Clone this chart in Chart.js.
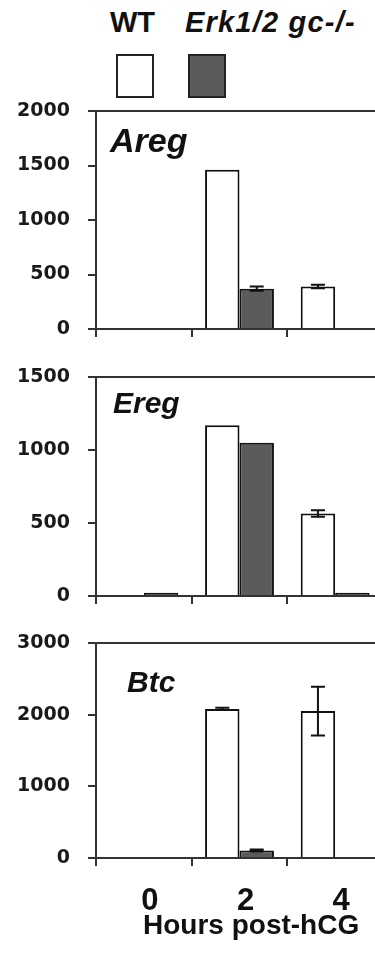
<!DOCTYPE html>
<html>
<head>
<meta charset="utf-8">
<script src="https://cdn.jsdelivr.net/npm/chart.js@4.4.1/dist/chart.umd.min.js"></script>
<style>
  body { margin: 0; width: 375px; height: 967px; overflow: hidden; position: relative; background: #fff;
         font-family: "Liberation Sans", Arial, sans-serif; color: #111; }
  .panel { position: absolute; left: 0; width: 383px; }
  .panel canvas { display: block; }
  .txt { position: absolute; white-space: nowrap; line-height: 1; font-weight: bold; }
  .gene { font-style: italic; }
  .swatch { position: absolute; top: 54px; width: 34px; height: 40px; border: 2px solid #222; }
</style>
</head>
<body>

<!-- legend -->
<div class="txt" style="left:110px; top:8px; font-size:29px;">WT</div>
<div class="txt gene" style="left:185px; top:8px; font-size:29px; letter-spacing:1.2px;">Erk1/2 gc-/-</div>
<div class="swatch" style="left:116px; background:#fff;"></div>
<div class="swatch" style="left:188px; background:#5b5b5b;"></div>

<div class="panel" style="top:91px; height:250px;"><canvas id="areg" width="383" height="250"></canvas></div>
<div class="panel" style="top:357px; height:251px;"><canvas id="ereg" width="383" height="251"></canvas></div>
<div class="panel" style="top:623px; height:344px;"><canvas id="btc" width="383" height="344"></canvas></div>

<div class="txt gene" style="left:110px; top:123px; font-size:34px;">Areg</div>
<div class="txt gene" style="left:113px; top:388px; font-size:30px;">Ereg</div>
<div class="txt gene" style="left:127px; top:667px; font-size:30px;">Btc</div>

<div class="txt" style="left:143px; top:911px; font-size:28px;">Hours post-hCG</div>

<script>
const hours = ["0", "2", "4"];

/* Areg */
const aregWT = [0, 1460, 390];
const aregWTErr = [0, 0, 15];
const aregKO = [0, 370, 0];
const aregKOErr = [0, 20, 0];
const aregTicks = [0, 500, 1000, 1500, 2000];

/* Ereg */
const eregWT = [0, 1170, 565];
const eregWTErr = [0, 0, 22];
const eregKO = [22, 1050, 22];
const eregKOErr = [0, 0, 0];
const eregTicks = [0, 500, 1000, 1500];

/* Btc */
const btcWT = [0, 2080, 2050];
const btcWTErr = [0, 15, 340];
const btcKO = [0, 105, 0];
const btcKOErr = [0, 15, 0];
const btcTicks = [0, 1000, 2000, 3000];

const axisColor = "#333";

/* error bars from dataset.errors */
const errorBars = {
    id: "errorBars",
    afterDatasetsDraw(chart) {
        const ctx = chart.ctx;
        const y = chart.scales.y;
        chart.data.datasets.forEach((ds, i) => {
            const meta = chart.getDatasetMeta(i);
            meta.data.forEach((bar, j) => {
                const e = ds.errors[j];
                if (!e) return;
                const top = y.getPixelForValue(ds.data[j] + e);
                const bot = y.getPixelForValue(ds.data[j] - e);
                ctx.save();
                ctx.strokeStyle = "#111";
                ctx.lineWidth = 2;
                ctx.beginPath();
                ctx.moveTo(bar.x, top); ctx.lineTo(bar.x, bot);
                ctx.moveTo(bar.x - 7, top); ctx.lineTo(bar.x + 7, top);
                ctx.moveTo(bar.x - 7, bot); ctx.lineTo(bar.x + 7, bot);
                ctx.stroke();
                ctx.restore();
            });
        });
    }
};

/* top frame line */
const topLine = {
    id: "topLine",
    afterDraw(chart) {
        const ctx = chart.ctx, a = chart.chartArea;
        ctx.save();
        ctx.strokeStyle = axisColor;
        ctx.lineWidth = 2;
        ctx.beginPath();
        ctx.moveTo(a.left, a.top);
        ctx.lineTo(chart.width, a.top);
        ctx.stroke();
        ctx.restore();
    }
};

function makeChart(id, wt, wtErr, ko, koErr, ticks, showLabels, xHeight) {
    const max = ticks[ticks.length - 1];
    return new Chart(document.getElementById(id), {
        type: "bar",
        data: {
            labels: hours,
            datasets: [
                { label: "WT", data: wt, errors: wtErr, backgroundColor: "#fff",
                  borderColor: "#111", borderWidth: 2 },
                { label: "Erk1/2 gc-/-", data: ko, errors: koErr, backgroundColor: "#5b5b5b",
                  borderColor: "#111", borderWidth: 2 }
            ]
        },
        options: {
            responsive: false,
            devicePixelRatio: 1,
            animation: false,
            layout: { padding: { top: 20, right: 0, bottom: 0, left: 0 } },
            datasets: { bar: { categoryPercentage: 0.72, barPercentage: 1 } },
            plugins: { legend: { display: false }, tooltip: { enabled: false } },
            scales: {
                x: {
                    grid: { offset: true, drawOnChartArea: false, tickLength: 8, color: axisColor, lineWidth: 2 },
                    border: { color: axisColor, width: 2 },
                    ticks: {
                        display: showLabels,
                        color: "#111",
                        padding: 17,
                        labelOffset: 6,
                        font: { family: "Liberation Sans", size: 31, weight: "bold" }
                    },
                    afterFit(scale) { scale.height = xHeight; }
                },
                y: {
                    min: 0,
                    max: max,
                    afterBuildTicks(scale) { scale.ticks = ticks.map(v => ({ value: v })); },
                    grid: { drawOnChartArea: false, tickLength: 8, color: axisColor, lineWidth: 2 },
                    border: { color: axisColor, width: 2 },
                    ticks: {
                        color: "#1a1a1a",
                        padding: 18,
                        callback: v => String(v),
                        font: { family: "DejaVu Sans", size: 19, weight: "bold" }
                    },
                    afterFit(scale) {
                        scale.width = 96;
                        scale.paddingTop = 10;
                        scale.paddingBottom = 10;
                    }
                }
            }
        },
        plugins: [errorBars, topLine]
    });
}

makeChart("areg", aregWT, aregWTErr, aregKO, aregKOErr, aregTicks, false, 12);
makeChart("ereg", eregWT, eregWTErr, eregKO, eregKOErr, eregTicks, false, 12);
makeChart("btc", btcWT, btcWTErr, btcKO, btcKOErr, btcTicks, true, 109);
</script>
</body>
</html>
